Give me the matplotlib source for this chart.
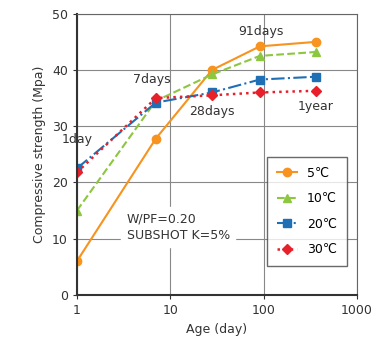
import matplotlib.pyplot as plt
import numpy as np

days = [1, 7, 28, 91, 365]
s5 = [6.0, 27.8, 40.0, 44.2, 45.0]
s10 = [15.0, 34.5, 39.2, 42.5, 43.2]
s20 = [22.5, 34.2, 36.0, 38.3, 38.8]
s30 = [21.8, 35.0, 35.5, 36.0, 36.3]
labels = ["5\u2103", "10\u2103", "20\u2103", "30\u2103"]
age_labels = ["1day", "7days", "28days", "91days", "1year"]

plt.rcParams['font.family'] = ['DejaVu Sans', 'Noto Sans CJK JP']

fig = plt.figure(figsize=(3.77, 3.43), dpi=100)
ax = fig.add_axes([0.204, 0.14, 0.743, 0.82])

ax.plot(days, s5, '-', color='#f7931e', marker='o', ms=6, lw=1.5, label=labels[0])
ax.plot(days, s10, '--', color='#8dc63f', marker='^', ms=6, lw=1.5, label=labels[1])
ax.plot(days, s20, '-.', color='#1f6fb5', marker='s', ms=6, lw=1.5, label=labels[2])
ax.plot(days, s30, ':', color='#e8202a', marker='D', ms=5, lw=1.8, label=labels[3])

ax.set_xscale('log')
ax.set_xlim(1, 1000)
ax.set_ylim(0, 50)
ax.set_xticks([1, 10, 100, 1000])
ax.set_xticklabels(["1", "10", "100", "1000"])
ax.set_yticks([0, 10, 20, 30, 40, 50])
ax.minorticks_off()
ax.grid(True, color='#888888', lw=0.8)
ax.tick_params(labelsize=9, colors='#333333', length=3)
for sp in ['left', 'bottom']:
    ax.spines[sp].set_linewidth(1.5)
    ax.spines[sp].set_color('#333333')
for sp in ['top', 'right']:
    ax.spines[sp].set_color('#666666')

ax.set_xlabel("Age (day)", fontsize=9, color='#333333')
ax.set_ylabel("Compressive strength (Mpa)", fontsize=9, color='#333333')

tk = dict(fontsize=9, color='#333333', ha='center', va='center')
ax.text(1.0, 27.6, age_labels[0], **tk)
ax.text(6.4, 38.3, age_labels[1], **tk)
ax.text(28, 32.6, age_labels[2], **tk)
ax.text(93, 46.8, age_labels[3], **tk)
ax.text(357, 33.5, age_labels[4], **tk)
ax.text(3.4, 12.0, "W/PF=0.20\nSUBSHOT K=5%", fontsize=9, color='#333333',
        va='center', linespacing=1.3, backgroundcolor='white')

leg = ax.legend(loc='lower right', bbox_to_anchor=(0.985, 0.08), fontsize=9,
                frameon=True, fancybox=False, edgecolor='#444444',
                handlelength=1.6, labelspacing=1.0, borderpad=0.8)
leg.get_frame().set_linewidth(1.0)

fig.savefig("out.png", dpi=100, facecolor='white')
